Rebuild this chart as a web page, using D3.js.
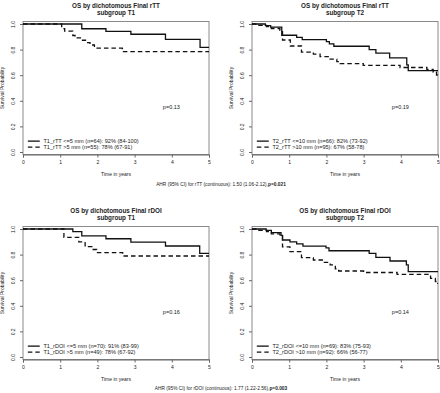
<!DOCTYPE html>
<html lang="en">
<head>
<meta charset="utf-8">
<script src="https://d3js.org/d3.v7.min.js"></script>
<style>
  body { margin: 0; background: #fff; }
  text { font-family: "Liberation Sans", Arial, sans-serif; fill: #222; }
</style>
</head>
<body>
<script>
  var width = 440,
      height = 393;

  // x ticks and y ticks shared by all four panels
  var xTicks = [0, 1, 2, 3, 4, 5];
  var yTicks = [0, 0.2, 0.4, 0.6, 0.8, 1.0];
  var yTickLabels = ["0.0", "0.2", "0.4", "0.6", "0.8", "1.0"];

  // panel titles
  var titles = [
    ["OS by dichotomous Final rTT", "subgroup T1"],
    ["OS by dichotomous Final rTT", "subgroup T2"],
    ["OS by dichotomous Final rDOI", "subgroup T1"],
    ["OS by dichotomous Final rDOI", "subgroup T2"]
  ];

  // legend labels (solid, dashed)
  var legends = [
    ["T1_rTT <=5 mm (n=64): 92% (84-100)", "T1_rTT >5 mm (n=55): 78% (67-91)"],
    ["T2_rTT <=10 mm (n=66): 82% (73-92)", "T2_rTT >10 mm (n=95): 67% (58-78)"],
    ["T1_rDOI <=5 mm (n=70): 91% (83-99)", "T1_rDOI >5 mm (n=49): 78% (67-92)"],
    ["T2_rDOI <=10 mm (n=69): 83% (75-93)", "T2_rDOI >10 mm (n=92): 66% (56-77)"]
  ];

  var pValues = ["p=0.13", "p=0.19", "p=0.16", "p=0.14"];

  // survival curves (time in years, survival probability)
  var t1RttLowTime = [0, 1.58, 2.23, 2.9, 3.83, 4.76];
  var t1RttLowSurv = [1.0, 0.963, 0.942, 0.92, 0.88, 0.818];
  var t1RttHighTime = [0, 1.04, 1.12, 1.34, 1.4, 1.6, 1.68, 1.8, 1.92, 2.67];
  var t1RttHighSurv = [1.0, 0.964, 0.945, 0.91, 0.891, 0.873, 0.855, 0.836, 0.812, 0.784];

  var t2RttLowTime = [0, 0.36, 0.5, 0.8, 1.2, 1.35, 2.0, 2.08, 2.2, 3.15, 3.33, 3.7, 4.16, 4.2];
  var t2RttLowSurv = [1.0, 0.988, 0.975, 0.912, 0.895, 0.878, 0.862, 0.845, 0.826, 0.8, 0.772, 0.736, 0.68, 0.636];
  var t2RttHighTime = [0, 0.13, 0.39, 0.52, 0.75, 0.82, 1.03, 1.33, 1.65, 1.83, 2.1, 2.28, 2.37, 2.99, 3.98, 4.7, 4.87, 4.96, 4.99];
  var t2RttHighSurv = [1.0, 0.99, 0.98, 0.965, 0.95, 0.875, 0.828, 0.78, 0.765, 0.745, 0.725, 0.706, 0.69, 0.677, 0.66, 0.645, 0.625, 0.6, 0.58];

  var t1DoiLowTime = [0, 1.34, 1.58, 2.23, 2.9, 3.83, 4.75];
  var t1DoiLowSurv = [1.0, 0.979, 0.947, 0.924, 0.898, 0.867, 0.81];
  var t1DoiHighTime = [0, 1.1, 1.5, 1.67, 1.85, 1.98, 2.68];
  var t1DoiHighSurv = [1.0, 0.935, 0.9, 0.862, 0.84, 0.815, 0.789];

  var t2DoiLowTime = [0, 0.38, 0.52, 0.78, 0.82, 1.02, 1.2, 1.37, 1.99, 2.07, 3.15, 3.33, 3.71, 4.15, 4.2];
  var t2DoiLowSurv = [1.0, 0.99, 0.972, 0.95, 0.914, 0.9, 0.884, 0.866, 0.852, 0.83, 0.81, 0.779, 0.75, 0.72, 0.667];
  var t2DoiHighTime = [0, 0.13, 0.39, 0.52, 0.75, 0.82, 1.02, 1.33, 1.65, 1.92, 2.1, 2.24, 2.33, 3.0, 3.9, 4.8, 4.93, 4.99];
  var t2DoiHighSurv = [1.0, 0.99, 0.98, 0.962, 0.945, 0.86, 0.823, 0.776, 0.758, 0.74, 0.719, 0.688, 0.672, 0.66, 0.646, 0.615, 0.59, 0.575];

  var curves = [
    [[t1RttLowTime, t1RttLowSurv], [t1RttHighTime, t1RttHighSurv]],
    [[t2RttLowTime, t2RttLowSurv], [t2RttHighTime, t2RttHighSurv]],
    [[t1DoiLowTime, t1DoiLowSurv], [t1DoiHighTime, t1DoiHighSurv]],
    [[t2DoiLowTime, t2DoiLowSurv], [t2DoiHighTime, t2DoiHighSurv]]
  ];

  // footnotes below each row
  var ahrTexts = [
    ["AHR (95% CI) for rTT (continuous): 1.50 (1.06-2.12),", "p=0.021"],
    ["AHR (95% CI) for rDOI (continuous): 1.77 (1.22-2.56),", "p=0.003"]
  ];

  // panel placement: left edge (t=0) and top (S=1.0)
  var panelPos = [[23, 24], [252, 24], [23, 229], [252, 229]];
  var plotW = 186, plotH = 128, pad = 2.5;

  var svg = d3.select('body')
    .append('svg')
    .attr('width', width)
    .attr('height', height);

  panelPos.forEach(function(pos, i) {
    var left = pos[0], top = pos[1];
    var x = d3.scaleLinear().domain([0, 5]).range([left, left + plotW]);
    var y = d3.scaleLinear().domain([0, 1]).range([top + plotH, top]);
    var g = svg.append('g');

    // frame
    g.append('rect')
      .attr('x', left).attr('y', top - pad)
      .attr('width', plotW).attr('height', plotH + 2 * pad)
      .attr('fill', 'none').attr('stroke', '#8a8a8a').attr('stroke-width', 1);

    // x axis
    var xAxis = d3.axisBottom(x).tickValues(xTicks).tickSize(3).tickPadding(3)
      .tickFormat(d3.format('d'));
    var xg = g.append('g')
      .attr('transform', 'translate(0,' + (top + plotH + pad) + ')')
      .call(xAxis);
    xg.select('.domain').attr('stroke', '#666');
    xg.selectAll('line').attr('stroke', '#666');
    xg.selectAll('text').style('font-size', '5px').attr('fill', '#333');

    // y axis
    var yAxis = d3.axisLeft(y).tickValues(yTicks).tickSize(3)
      .tickFormat(function(d, k) { return yTickLabels[k]; });
    var yg = g.append('g')
      .attr('transform', 'translate(' + left + ',0)')
      .call(yAxis);
    yg.select('.domain').remove();
    yg.selectAll('line').attr('stroke', '#666');
    yg.selectAll('text')
      .style('font-size', '5px').attr('fill', '#333')
      .attr('x', 0).attr('dy', 0)
      .attr('text-anchor', 'middle')
      .attr('transform', 'translate(-8.5,0) rotate(-90)');

    // axis titles
    g.append('text')
      .attr('x', left + plotW / 2).attr('y', top + plotH + 24)
      .attr('text-anchor', 'middle')
      .style('font-size', '5px')
      .text('Time in years');
    g.append('text')
      .attr('transform', 'translate(' + (left - 19) + ',' + (top + plotH / 2) + ') rotate(-90)')
      .attr('text-anchor', 'middle')
      .style('font-size', '5px')
      .text('Survival Probability');

    // titles
    g.append('text')
      .attr('x', left + plotW / 2).attr('y', top - 16.5)
      .attr('text-anchor', 'middle')
      .style('font-size', '6.3px').style('font-weight', 'bold')
      .text(titles[i][0]);
    g.append('text')
      .attr('x', left + plotW / 2).attr('y', top - 9.5)
      .attr('text-anchor', 'middle')
      .style('font-size', '6.3px').style('font-weight', 'bold')
      .text(titles[i][1]);

    // curves
    var line = d3.line()
      .x(function(d) { return x(d[0]); })
      .y(function(d) { return y(d[1]); })
      .curve(d3.curveStepAfter);

    curves[i].forEach(function(c, j) {
      var pts = c[0].map(function(t, k) { return [t, c[1][k]]; });
      pts.push([5, c[1][c[1].length - 1]]);
      g.append('path')
        .datum(pts)
        .attr('d', line)
        .attr('fill', 'none')
        .attr('stroke', '#111')
        .attr('stroke-width', 1.3)
        .attr('stroke-dasharray', j == 1 ? '4.5,3' : null);
    });

    // p value
    g.append('text')
      .attr('x', x(3.76)).attr('y', y(0.35) + 2)
      .style('font-size', '5.5px')
      .text(pValues[i]);

    // legend
    legends[i].forEach(function(lab, j) {
      var ly = y(0.085) + j * 6;
      g.append('line')
        .attr('x1', x(0.13)).attr('x2', x(0.45))
        .attr('y1', ly).attr('y2', ly)
        .attr('stroke', '#111').attr('stroke-width', 1.3)
        .attr('stroke-dasharray', j == 1 ? '4.5,3' : null);
      g.append('text')
        .attr('x', x(0.55)).attr('y', ly + 2)
        .style('font-size', '5.6px')
        .text(lab);
    });
  });

  // footnotes
  ahrTexts.forEach(function(a, i) {
    var t = svg.append('text')
      .attr('x', 221).attr('y', i == 0 ? 186 : 390)
      .attr('text-anchor', 'middle')
      .style('font-size', '4.8px');
    t.append('tspan').text(a[0]);
    t.append('tspan').style('font-weight', 'bold').text(a[1]);
  });

  console.log('ready..');
</script>
</body>
</html>
